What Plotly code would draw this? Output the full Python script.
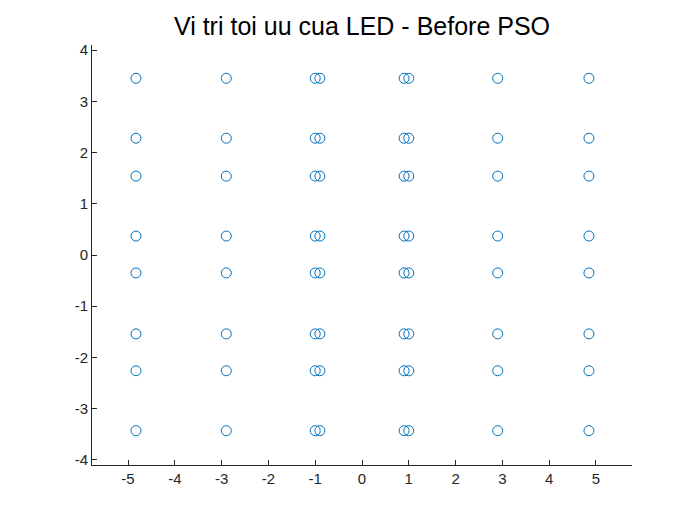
import plotly.graph_objects as go

x_cols = [-4.83, -2.9, -1.0, -0.9, 0.9, 1.0, 2.9, 4.85]
y_rows = [3.45, 2.28, 1.54, 0.37, -0.35, -1.54, -2.26, -3.43]
x_ticks = list(range(-5, 6))
y_ticks = list(range(-4, 5))

xs = [x for y in y_rows for x in x_cols]
ys = [y for y in y_rows for x in x_cols]

fig = go.Figure()
fig.add_trace(go.Scatter(
    x=xs, y=ys, mode='markers',
    marker=dict(symbol='circle-open', size=10, color='#0072BD', line=dict(width=1))
))

axis_style = dict(
    showgrid=False, zeroline=False, showline=True, linecolor='#262626', linewidth=1,
    ticks='inside', ticklen=5, tickcolor='#262626', mirror=False,
    tickfont=dict(family='Liberation Sans, Arial', size=15, color='#262626')
)

fig.update_layout(
    width=700, height=525,
    title=dict(text='Vi tri toi uu cua LED - Before PSO', xref='paper', x=0.5,
               yref='container', y=0.982, xanchor='center', yanchor='top',
               font=dict(family='Liberation Sans, Arial', size=25, color='black')),
    plot_bgcolor='white', paper_bgcolor='white',
    margin=dict(l=84, r=76, t=37, b=68),
    showlegend=False,
    xaxis=dict(range=[-5.77, 5.77], tickvals=x_ticks,
               ticktext=[str(v) for v in x_ticks], **axis_style),
    yaxis=dict(range=[-4.1, 4.1], tickvals=y_ticks,
               ticktext=[str(v) for v in y_ticks], **axis_style),
)

fig.write_html("out.html")
